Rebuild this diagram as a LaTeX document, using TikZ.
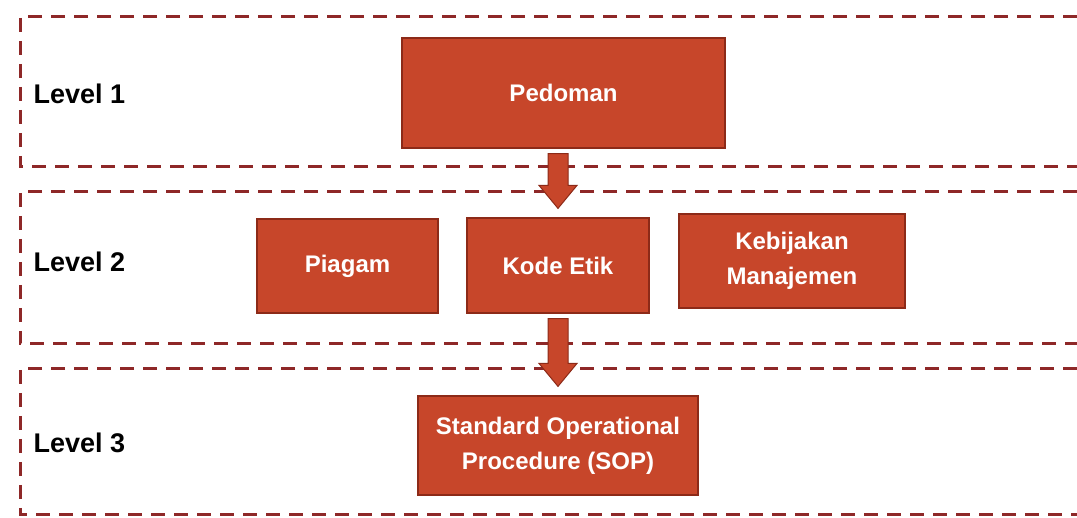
\documentclass[tikz,border=0pt]{standalone}
\usepackage{fontspec}
\setmainfont{Liberation Sans}
\usetikzlibrary{calc}

\definecolor{boxfill}{RGB}{199,70,42}
\definecolor{boxline}{RGB}{140,42,24}
\definecolor{dashred}{RGB}{142,40,40}

\tikzset{
  docbox/.style={draw=boxline,line width=1.2pt,fill=boxfill,text=white,align=center,
    font=\fontsize{24}{35}\selectfont\bfseries,inner sep=0pt},
  lvl/.style={anchor=west,font=\fontsize{27}{32}\selectfont\bfseries},
  band/.style={draw=dashred,line width=3pt,dash pattern=on 14pt off 9pt},
  blockarrow/.style={fill=boxfill,draw=boxline,line width=1pt,line join=miter}
}

\begin{document}
\begin{tikzpicture}[x=1pt,y=-1pt]
  \useasboundingbox (0,0) rectangle (1077,518);
  % level bands, open to the right
  \draw[band] (1077,17) -- (20,17) -- (20,167) -- (1077,167);
  \draw[band] (1077,192) -- (20,192) -- (20,344) -- (1077,344);
  \draw[band] (1077,369) -- (20,369) -- (20,515) -- (1077,515);
  \node[lvl] (lv1) at (30,94) {Level 1};
  \node[lvl] (lv2) at (30,262) {Level 2};
  \node[lvl] (lv3) at (30,443) {Level 3};
  % documents
  \node[docbox,minimum width=323,minimum height=110] (ped) at (563.5,93) {Pedoman};
  \node[docbox,minimum width=181,minimum height=94] (piagam) at (347.5,266) {Piagam};
  \node[docbox,minimum width=182,minimum height=95] (kode) at (558,265.5) {Kode Etik};
  \node[docbox,minimum width=226,minimum height=94] (kebijakan) at (792,261) {Kebijakan\\Manajemen};
  \node[docbox,minimum width=280,minimum height=99] (sop) at (558,445.5) {Standard Operational\\Procedure (SOP)};
  % block arrows between levels
  \foreach \a/\b in {ped/kode,kode/sop} {
    \filldraw[blockarrow] ($(\b.north|-\a.south)+(-10,5)$) -- ($(\b.north)+(-10,-32)$)
      -- ($(\b.north)+(-19,-32)$) -- ($(\b.north)+(0,-9)$) -- ($(\b.north)+(19,-32)$)
      -- ($(\b.north)+(10,-32)$) -- ($(\b.north|-\a.south)+(10,5)$) -- cycle;
  }
\end{tikzpicture}
\end{document}
